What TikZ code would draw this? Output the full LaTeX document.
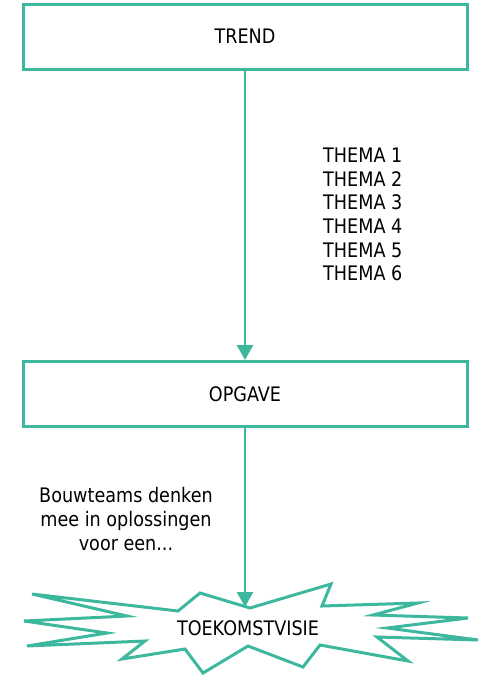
\documentclass[tikz,border=0pt]{standalone}
\usepackage{fontspec}
\setmainfont[FakeStretch=0.88]{DejaVu Sans}
\usetikzlibrary{arrows.meta}
\definecolor{flowteal}{HTML}{3DB89F}
\tikzset{
  flowbox/.style={draw=flowteal, line width=3pt, minimum width=444pt, minimum height=65pt, inner sep=0pt},
  flowarrow/.style={draw=flowteal, line width=2.6pt, -{Triangle[width=16pt,length=15pt]}},
  flowtext/.style={font=\fontsize{20}{23.6}\selectfont, inner sep=0pt}
}
\begin{document}
\begin{tikzpicture}[x=1pt, y=-1pt]
  % Canvas (fixes the margins)
  \useasboundingbox (0,0) rectangle (481,675);

  % Boxes
  \node[flowbox, flowtext] (trend) at (245,36.5) {TREND};
  \node[flowbox, flowtext] (opgave) at (245,394) {OPGAVE};

  % Starburst (draw directly)
  \draw[flowteal, line width=3pt, line join=miter]
    (200,593) -- (178,611) -- (32,594) -- (127,616) -- (24,621) -- (107,633)
    -- (27,646) -- (145,641) -- (122,659) -- (185,649) -- (203,673) -- (248,646)
    -- (303,667) -- (320,645) -- (408,661) -- (377,637) -- (478,640) -- (387,628)
    -- (468,618) -- (373,615) -- (418,603) -- (322,606) -- (331,584) -- (250,608)
    -- cycle;
  \node[flowtext] (visie) at (248,628) {TOEKOMSTVISIE};
  \coordinate (burst) at (245,607);

  % Connectors
  \draw[flowarrow] (trend.south) -- (opgave.north);
  \draw[flowarrow] (opgave.south) -- (burst);

  % Side labels
  \node[flowtext, anchor=north west, align=left] (themas) at (323,148)
    {THEMA 1\\THEMA 2\\THEMA 3\\THEMA 4\\THEMA 5\\THEMA 6};
  \node[flowtext, align=center] (bouwteams) at (126,519)
    {Bouwteams denken\\mee in oplossingen\\voor een...};

\end{tikzpicture}
\end{document}
